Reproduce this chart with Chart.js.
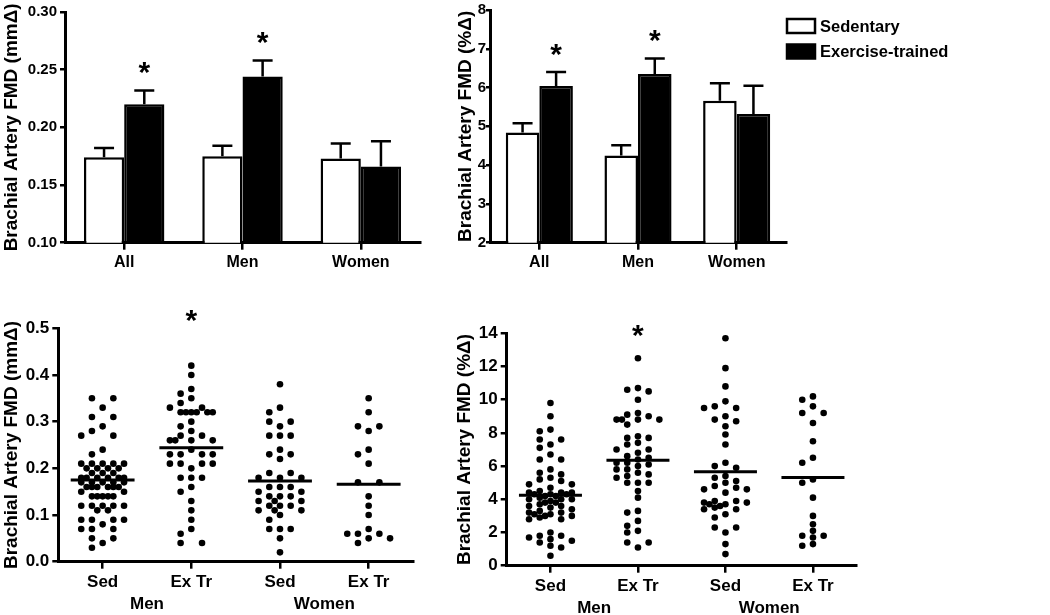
<!DOCTYPE html>
<html><head><meta charset="utf-8">
<script src="https://cdn.jsdelivr.net/npm/chart.js@4.4.1/dist/chart.umd.min.js"></script>
<style>
html,body{margin:0;padding:0;background:#fff;width:1050px;height:615px;overflow:hidden}
canvas{position:absolute;display:block}
</style></head><body>
<canvas id="c1" width="425" height="290" style="left:0;top:0"></canvas>
<canvas id="c2" width="601" height="290" style="left:449px;top:0"></canvas>
<canvas id="c3" width="420" height="315" style="left:0;top:300px"></canvas>
<canvas id="c4" width="440" height="315" style="left:450px;top:300px"></canvas>
<script>
// ---------- data ----------
const categories = ['All', 'Men', 'Women'];
const seriesNames = ['Sedentary', 'Exercise-trained'];
const sedMeanMm = [0.174, 0.175, 0.173];
const sedSemMm  = [0.008, 0.009, 0.013];
const exMeanMm  = [0.220, 0.244, 0.166];
const exSemMm   = [0.012, 0.014, 0.022];
const sedMeanPct = [4.84, 4.25, 5.66];
const sedSemPct  = [0.24, 0.26, 0.45];
const exMeanPct  = [6.04, 6.35, 5.32];
const exSemPct   = [0.36, 0.40, 0.73];
const exSignificant = [true, true, false];
const ticksMmBar  = [0.10, 0.15, 0.20, 0.25, 0.30];
const ticksPctBar = [2, 3, 4, 5, 6, 7, 8];
const ticksMmDot  = [0.0, 0.1, 0.2, 0.3, 0.4, 0.5];
const ticksPctDot = [0, 2, 4, 6, 8, 10, 12, 14];
const dotLabels = ['Sed', 'Ex Tr', 'Sed', 'Ex Tr'];
const groupLabels = ['Men', 'Women'];
const dotSignificant = [false, true, false, false];

const menSedMm = [0.35,0.35,0.33,0.31,0.31,0.29,0.28,0.27,0.27,0.24,0.23,
  0.21,0.21,0.21,0.21,0.21,0.20,0.20,0.20,0.20,0.19,0.19,0.19,
  0.18,0.18,0.18,0.18,0.18,0.18,0.17,0.17,0.17,0.17,0.17,
  0.16,0.16,0.16,0.16,0.16,0.16,0.15,0.15,0.14,0.14,0.14,0.14,0.14,
  0.12,0.12,0.12,0.12,0.12,0.11,0.11,0.09,0.09,0.09,0.09,0.08,
  0.07,0.07,0.07,0.05,0.05,0.04,0.03];
const menExMm = [0.42,0.40,0.37,0.36,0.35,0.34,0.33,0.33,0.32,0.32,0.32,0.32,0.32,0.32,
  0.30,0.29,0.28,0.27,0.27,0.26,0.26,0.26,0.26,0.24,0.23,0.23,0.23,0.23,
  0.21,0.21,0.21,0.21,0.20,0.18,0.18,0.18,0.16,0.15,0.13,0.11,0.09,0.07,0.06,0.04,0.04];
const womenSedMm = [0.38,0.33,0.32,0.30,0.30,0.29,0.27,0.27,0.27,0.24,0.23,0.23,0.22,
  0.19,0.19,0.18,0.18,0.18,0.16,0.16,0.16,0.15,0.15,0.14,0.14,0.14,0.13,0.13,0.13,
  0.12,0.12,0.12,0.11,0.11,0.11,0.10,0.09,0.07,0.07,0.07,0.05,0.02];
const womenExMm = [0.35,0.32,0.29,0.29,0.28,0.24,0.23,0.21,0.17,0.17,0.14,0.12,0.10,0.07,
  0.06,0.06,0.06,0.05,0.05,0.04];

const menSedPct = [9.8,9.0,8.2,8.1,7.6,7.6,7.3,7.1,6.7,6.4,6.4,5.8,5.6,5.5,5.3,5.2,5.1,
  4.9,4.9,4.7,4.5,4.4,4.4,4.4,4.3,4.3,4.3,4.2,4.2,4.1,4.0,4.0,4.0,3.9,3.8,3.8,3.7,
  3.6,3.6,3.5,3.4,3.3,3.2,3.2,3.1,3.1,3.0,3.0,2.9,2.8,2.8,2.0,1.8,1.8,1.7,1.6,1.5,
  1.4,1.2,1.1,0.6];
const menExPct = [12.5,10.7,10.6,10.5,10.0,9.2,9.1,9.0,8.8,8.8,8.8,8.8,8.5,7.8,7.7,7.7,
  7.4,7.3,7.0,7.0,6.8,6.6,6.5,6.4,6.2,6.2,6.1,6.0,5.8,5.8,5.6,5.5,5.4,5.3,5.0,5.0,5.0,
  4.5,4.1,3.3,3.2,2.7,2.4,2.1,2.0,1.4,1.4,1.1];
const womenSedPct = [13.7,11.9,10.8,9.9,9.6,9.5,9.5,9.0,8.8,8.7,8.4,7.9,7.3,6.2,6.0,5.9,
  5.4,5.3,5.1,5.0,4.8,4.7,4.6,4.6,4.4,3.9,3.9,3.8,3.8,3.7,3.7,3.6,3.5,3.4,3.4,3.1,2.9,
  2.3,2.3,2.0,1.3,0.7];
const womenExPct = [10.2,10.0,9.6,9.2,9.2,8.6,7.5,6.5,6.2,5.2,5.0,4.1,3.0,2.5,2.1,1.8,
  1.8,1.7,1.3,1.2];

// ---------- helpers ----------
const FONT = '"Liberation Sans", Arial, Helvetica, sans-serif';
Chart.defaults.font.family = FONT;
Chart.defaults.font.weight = 'bold';
Chart.defaults.color = '#000';

const errorBars = {
  id: 'errorBars',
  afterDatasetsDraw(chart) {
    const ctx = chart.ctx, y = chart.scales.y;
    chart.data.datasets.forEach((ds, di) => {
      const meta = chart.getDatasetMeta(di);
      meta.data.forEach((el, i) => {
        const top = y.getPixelForValue(ds.data[i] + ds.sem[i]);
        ctx.save();
        ctx.strokeStyle = '#000'; ctx.lineWidth = 2.5;
        ctx.beginPath();
        ctx.moveTo(el.x, el.y); ctx.lineTo(el.x, top);
        ctx.moveTo(el.x - 10, top); ctx.lineTo(el.x + 10, top);
        ctx.stroke();
        if (ds.sig && ds.sig[i]) {
          ctx.fillStyle = '#000';
          ctx.font = 'bold 30px ' + FONT;
          ctx.textAlign = 'center'; ctx.textBaseline = 'alphabetic';
          ctx.fillText('*', el.x, top - 25 + 16.5);
        }
        ctx.restore();
      });
    });
  }
};

const legendPlugin = {
  id: 'sideLegend',
  afterDraw(chart) {
    if (!chart.options.plugins.sideLegend || !chart.options.plugins.sideLegend.show) return;
    const ctx = chart.ctx, x0 = chart.chartArea.right;
    chart.data.datasets.forEach((ds, i) => {
      const y = 19 + i * 25.5;
      ctx.save();
      ctx.fillStyle = ds.backgroundColor;
      ctx.fillRect(x0 + 1, y, 28, 14);
      ctx.strokeStyle = '#000'; ctx.lineWidth = 2.5;
      ctx.strokeRect(x0 + 1, y, 28, 14);
      ctx.fillStyle = '#000';
      ctx.font = 'bold 16.5px ' + FONT;
      ctx.textAlign = 'left'; ctx.textBaseline = 'middle';
      ctx.fillText(ds.label, x0 + 34, y + 8);
      ctx.restore();
    });
  }
};

function axisCommon(size) {
  return {
    grid: { drawOnChartArea: false, color: '#000', lineWidth: 2.5, tickLength: 6 },
    border: { color: '#000', width: 3 },
    ticks: { color: '#000', font: { size: size, weight: 'bold' }, padding: 3 }
  };
}

function barChart(id, sed, sedSem, ex, exSem, yTicks, decimals, title, lay) {
  const xAxis = axisCommon(16);
  xAxis.grid.offset = false; xAxis.grid.tickLength = 7; xAxis.ticks.padding = 3;
  xAxis.afterFit = s => { s.height = lay.xH; };
  const yAxis = axisCommon(15);
  yAxis.grid.tickLength = lay.yTick; yAxis.ticks.padding = lay.yTickPad;
  Object.assign(yAxis, {
    min: yTicks[0], max: yTicks[yTicks.length - 1],
    afterBuildTicks: s => { s.ticks = yTicks.map(v => ({ value: v })); },
    title: { display: true, text: title, color: '#000', font: { size: 19, weight: 'bold' }, padding: { top: lay.titlePad, bottom: 0 } },
    afterFit: s => { s.width = lay.yW; }
  });
  yAxis.ticks.callback = v => Number(v).toFixed(decimals);
  return new Chart(document.getElementById(id), {
    type: 'bar',
    data: {
      labels: categories,
      datasets: [
        { label: seriesNames[0], data: sed, sem: sedSem, backgroundColor: '#ffffff', borderColor: '#000', borderWidth: 2.5, borderSkipped: 'bottom' },
        { label: seriesNames[1], data: ex, sem: exSem, sig: exSignificant, backgroundColor: '#000000', borderColor: '#000', borderWidth: 2.5, borderSkipped: 'bottom' }
      ]
    },
    options: {
      responsive: false, animation: false,
      layout: { padding: { top: lay.padTop, right: lay.padRight, bottom: 0, left: 0 } },
      datasets: { bar: { categoryPercentage: 0.68, barPercentage: 1 } },
      plugins: { legend: { display: false }, tooltip: { enabled: false }, sideLegend: { show: lay.legend } },
      scales: { x: xAxis, y: yAxis }
    },
    plugins: [errorBars, legendPlugin]
  });
}

// horizontal spreading of points that share a level (layout only)
function swarm(values, groupIdx, pxPerX, pxPerY) {
  const slot = 10.7, minD = 5.6;
  const sorted = values.slice().sort((a, b) => b - a);
  const placed = [], out = [];
  let i = 0;
  while (i < sorted.length) {
    let j = i;
    while (j < sorted.length && sorted[j] === sorted[i]) j++;
    const n = j - i;
    const cands = (n % 2 ? [0, -1, 1, -2, 2] : [-1, 1, -2, 2, 0]).concat([-0.5, 0.5, -1.5, 1.5]);
    for (let k = i; k < j; k++) {
      const py = sorted[k] * pxPerY;
      let best = null, bestD = -1;
      for (const c of cands) {
        const px = c * slot;
        let d = Infinity;
        placed.forEach(p => { d = Math.min(d, Math.hypot(p[0] - px, p[1] - py)); });
        if (d >= minD) { best = px; bestD = d; break; }
        if (d > bestD) { bestD = d; best = px; }
      }
      placed.push([best, py]);
      out.push({ x: groupIdx + best / pxPerX, y: sorted[k] });
    }
    i = j;
  }
  return out;
}

const groupLabelPlugin = {
  id: 'groupLabels',
  afterDraw(chart) {
    const o = chart.options.plugins.groupLabels;
    if (!o) return;
    const ctx = chart.ctx, x = chart.scales.x, area = chart.chartArea;
    ctx.save();
    ctx.fillStyle = '#000';
    ctx.font = 'bold 17px ' + FONT;
    ctx.textAlign = 'center'; ctx.textBaseline = 'middle';
    groupLabels.forEach((g, i) => ctx.fillText(g, x.getPixelForValue(0.5 + 2 * i), area.bottom + o.dy));
    ctx.font = 'bold 30px ' + FONT;
    ctx.textBaseline = 'alphabetic';
    dotSignificant.forEach((s, i) => { if (s) ctx.fillText('*', x.getPixelForValue(i), area.top + o.starDy + 16.5); });
    ctx.restore();
  }
};

function dotChart(id, groups, means, yTicks, decimals, title, lay) {
  const yMin = yTicks[0], yMax = yTicks[yTicks.length - 1];
  const pxPerX = lay.areaW / 4, pxPerY = lay.areaH / (yMax - yMin);
  let pts = [];
  groups.forEach((g, i) => { pts = pts.concat(swarm(g, i, pxPerX, pxPerY)); });
  const meanSegs = [];
  means.forEach((m, i) => {
    meanSegs.push({ x: i - 0.36, y: m }, { x: i + 0.36, y: m }, { x: i + 0.5, y: null });
  });
  const xAxis = axisCommon(17);
  Object.assign(xAxis, {
    type: 'linear', min: -0.5, max: 3.5,
    afterBuildTicks: s => { s.ticks = dotLabels.map((_, i) => ({ value: i })); },
    afterFit: s => { s.height = lay.xH; }
  });
  xAxis.grid.tickLength = 7;
  xAxis.ticks.callback = v => dotLabels[v];
  xAxis.ticks.maxRotation = 0;
  const yAxis = axisCommon(17);
  Object.assign(yAxis, {
    min: yMin, max: yMax,
    afterBuildTicks: s => { s.ticks = yTicks.map(v => ({ value: v })); },
    title: { display: true, text: title, color: '#000', font: { size: 19, weight: 'bold' }, padding: { top: lay.titlePad, bottom: 0 } },
    afterFit: s => { s.width = lay.yW; }
  });
  yAxis.ticks.callback = v => Number(v).toFixed(decimals);
  return new Chart(document.getElementById(id), {
    type: 'scatter',
    data: {
      datasets: [
        { data: pts, pointRadius: 3.3, pointBackgroundColor: '#000', pointBorderWidth: 0, backgroundColor: '#000', clip: false },
        { type: 'line', data: meanSegs, borderColor: '#000', borderWidth: 3, pointRadius: 0, spanGaps: false, fill: false }
      ]
    },
    options: {
      responsive: false, animation: false,
      layout: { padding: { top: lay.padTop, right: lay.padRight, bottom: 0, left: 0 } },
      plugins: { legend: { display: false }, tooltip: { enabled: false }, groupLabels: { dy: lay.groupDy, starDy: lay.starDy } },
      scales: { x: xAxis, y: yAxis }
    },
    plugins: [groupLabelPlugin]
  });
}

// ---------- charts ----------
barChart('c1', sedMeanMm, sedSemMm, exMeanMm, exSemMm, ticksMmBar, 2, 'Brachial Artery FMD (mmΔ)',
  { yW: 65, padTop: 10, padRight: 5, xH: 47.3, titlePad: 0, legend: false, yTick: 5, yTickPad: 3 });
barChart('c2', sedMeanPct, sedSemPct, exMeanPct, exSemPct, ticksPctBar, 0, 'Brachial Artery FMD (%Δ)',
  { yW: 41, padTop: 10, padRight: 264, xH: 47.3, titlePad: 5, legend: true, yTick: 4, yTickPad: 0 });
dotChart('c3', [menSedMm, menExMm, womenSedMm, womenExMm],
  [sedMeanMm[1], exMeanMm[1], sedMeanMm[2], exMeanMm[2]], ticksMmDot, 1, 'Brachial Artery FMD (mmΔ)',
  { yW: 58.3, padTop: 28.3, padRight: 7, xH: 53.3, titlePad: 0, areaW: 354.7, areaH: 233.4, groupDy: 43, starDy: -14.6 });
dotChart('c4', [menSedPct, menExPct, womenSedPct, womenExPct],
  [sedMeanPct[1], exMeanPct[1], sedMeanPct[2], exMeanPct[2]], ticksPctDot, 0, 'Brachial Artery FMD (%Δ)',
  { yW: 56.7, padTop: 33.3, padRight: 33.3, xH: 49.3, titlePad: 3, areaW: 350, areaH: 232.4, groupDy: 42.3, starDy: -4.6 });
</script>
</body></html>
